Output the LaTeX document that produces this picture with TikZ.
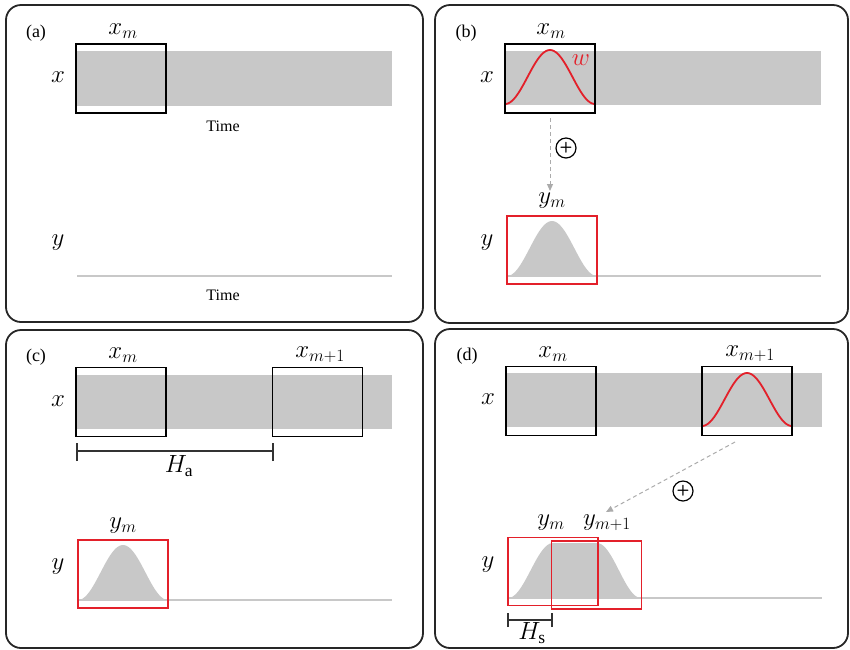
\documentclass[tikz,border=0pt]{standalone}
\usepackage{fontspec}
\setmainfont{Liberation Serif}
\usetikzlibrary{arrows.meta}
\definecolor{band}{HTML}{C8C8C8}
\definecolor{wred}{HTML}{E3202A}
\definecolor{arrgray}{HTML}{ABABAB}
\tikzset{
  frame/.style={draw=black!85,line width=1.8pt,rounded corners=15pt},
  win/.style={draw=black,line width=1.2pt,minimum width=90pt,minimum height=69pt,inner sep=0pt},
  rwin/.style={draw=wred,line width=1.2pt,minimum width=90pt,minimum height=68pt,inner sep=0pt},
  panlab/.style={font=\fontsize{18}{20}\selectfont,inner sep=0pt},
  timelab/.style={font=\fontsize{16}{18}\selectfont,inner sep=0pt},
  mlab/.style={font=\fontsize{25}{28}\selectfont,inner sep=0pt},
  dasharrow/.style={draw=arrgray,line width=1pt,dash pattern=on 4pt off 3pt,-{Triangle[length=7pt,width=6pt]}},
  plusnode/.style={circle,draw=black,line width=1.2pt,minimum size=20pt,inner sep=0pt,font=\sffamily\bfseries\fontsize{15}{15}\selectfont},
  tickline/.style={draw=black!80,line width=1.1pt},
  baseline/.style={draw=band,line width=2.6pt},
  curve/.style={draw=wred,line width=1.8pt}
}
\begin{document}
\begin{tikzpicture}[x=1pt,y=-1pt]
\useasboundingbox (0,0) rectangle (850,649);
% frames
\draw[frame] (6,5) rectangle (423,322);
\draw[frame] (435,5) rectangle (848,323);
\draw[frame] (6,330) rectangle (423,648);
\draw[frame] (435,329) rectangle (848,648);

%% ---------------- (a)
\node[panlab] (la) at (36,33) {(a)};
\fill[band] (76,51) rectangle (392,106);
\node[win] (axm) at (121,78.5) {};
\node[mlab] (axmlab) at (123,31) {$x_m$};
\node[mlab] (ax) at (58,77) {$x$};
\node[timelab] (at1) at (223,126) {Time};
\node[mlab] (ay) at (58,243) {$y$};
\draw[baseline] (77,276) -- (392,276);
\node[timelab] (at2) at (223,295) {Time};

%% ---------------- (b)
\node[panlab] (lb) at (466,33) {(b)};
\fill[band] (505,51) rectangle (821,105);
\draw[curve] plot[domain=0:1,samples=60] ({505+90*\x},{104-54*(sin(180*\x))^2});
\node[win] (bxm) at (550,78.5) {};
\node[mlab] (bxmlab) at (551,31) {$x_m$};
\node[mlab,text=wred] (bw) at (581,60) {$w$};
\node[mlab] (bx) at (487,77) {$x$};
\coordinate (bfrom) at (550,118);
\coordinate (bto) at (550,191);
\draw[dasharrow] (bfrom) -- (bto);
\node[plusnode] (bplus) at (566,148) {+};
\node[mlab] (bymlab) at (552,201) {$y_m$};
\draw[baseline] (507,276) -- (821,276);
\fill[band] plot[domain=0:1,samples=60] ({507+90*\x},{276-55*(sin(180*\x))^2}) -- cycle;
\node[rwin] (bym) at (552,250) {};
\node[mlab] (by) at (487,243) {$y$};

%% ---------------- (c)
\node[panlab] (lc) at (36,357) {(c)};
\fill[band] (76,375) rectangle (392,429);
\node[win] (cxm) at (121,402) {};
\node[win] (cxm1) at (317.5,402) {};
\node[mlab] (cxmlab) at (123,355) {$x_m$};
\node[mlab] (cxm1lab) at (320,355) {$x_{m+1}$};
\node[mlab] (cx) at (58,401) {$x$};
\coordinate (ha1) at (77,451);
\coordinate (ha2) at (273,451);
\draw[tickline] (ha1) -- (ha2);
\draw[tickline] ([yshift=-10pt]ha1) -- ([yshift=8pt]ha1);
\draw[tickline] ([yshift=-10pt]ha2) -- ([yshift=8pt]ha2);
\node[mlab] (hal) at (179,466) {$H_{\mathrm{a}}$};
\node[mlab] (cymlab) at (123,526) {$y_m$};
\draw[baseline] (78,600) -- (392,600);
\fill[band] plot[domain=0:1,samples=60] ({78+90*\x},{600-55*(sin(180*\x))^2}) -- cycle;
\node[rwin] (cym) at (123,574) {};
\node[mlab] (cy) at (58,567) {$y$};

%% ---------------- (d)
\node[panlab] (ld) at (467,356) {(d)};
\fill[band] (506,373) rectangle (822,427);
\draw[curve] plot[domain=0:1,samples=60] ({702+90*\x},{426-53*(sin(180*\x))^2});
\node[win] (dxm) at (551,401) {};
\node[win] (dxm1) at (747,401) {};
\node[mlab] (dxmlab) at (553,354) {$x_m$};
\node[mlab] (dxm1lab) at (750,354) {$x_{m+1}$};
\node[mlab] (dx) at (488,399) {$x$};
\coordinate (dfrom) at (735,442);
\coordinate (dto) at (606,512);
\draw[dasharrow] (dfrom) -- (dto);
\node[plusnode] (dplus) at (683,491) {+};
\node[mlab] (dymlab) at (551,523) {$y_m$};
\node[mlab] (dym1lab) at (607,523) {$y_{m+1}$};
\draw[baseline] (508,598) -- (822,598);
\fill[band] plot[domain=0:1,samples=30] ({508+45*\x},{598-55*(sin(90*\x))^2})
  -- (597,543)
  -- plot[domain=0:1,samples=30] ({597+44*\x},{598-55*(cos(90*\x))^2}) -- cycle;
\node[rwin] (dym) at (553,571.5) {};
\node[rwin] (dym1) at (596.5,575) {};
\node[mlab] (dy) at (488,565) {$y$};
\coordinate (hs1) at (508,620);
\coordinate (hs2) at (552,620);
\draw[tickline] (hs1) -- (hs2);
\draw[tickline] ([yshift=-7pt]hs1) -- ([yshift=7pt]hs1);
\draw[tickline] ([yshift=-7pt]hs2) -- ([yshift=7pt]hs2);
\node[mlab] (hsl) at (532,633) {$H_{\mathrm{s}}$};
\end{tikzpicture}
\end{document}
